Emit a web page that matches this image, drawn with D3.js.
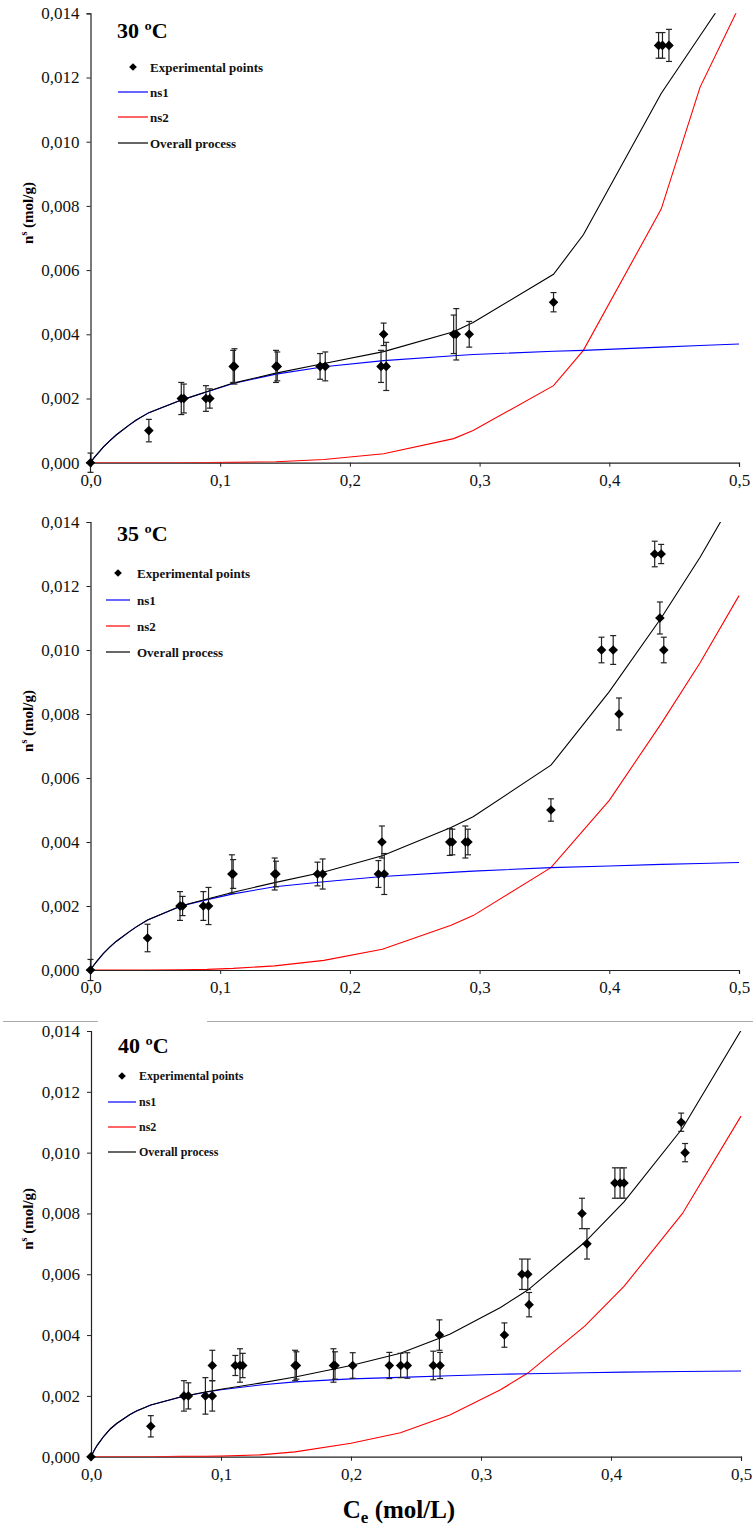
<!DOCTYPE html>
<html><head><meta charset="utf-8">
<script src="https://cdn.jsdelivr.net/npm/d3@7"></script>
<style>
html,body{margin:0;padding:0;background:#fff;}
svg{display:block;font-family:"Liberation Serif","Times New Roman",serif;}
</style></head>
<body>
<svg id="chart" width="753" height="1526"></svg>
<script>
// ---------- DATA ----------
const xTickValues = [0, 0.1, 0.2, 0.3, 0.4, 0.5];
const yTickValues = [0, 0.002, 0.004, 0.006, 0.008, 0.010, 0.012, 0.014];
const legendLabels = ["Experimental points", "ns1", "ns2", "Overall process"];
const panelTitles = ["30 ºC", "35 ºC", "40 ºC"];

// 30 ºC experimental points
const exp30X   = [0, 0.045, 0.070, 0.072, 0.089, 0.092, 0.110, 0.111, 0.143, 0.144, 0.177, 0.181, 0.224, 0.226, 0.228, 0.280, 0.282, 0.292, 0.357, 0.438, 0.441, 0.446];
const exp30Y   = [0, 0.001, 0.002, 0.002, 0.002, 0.002, 0.003, 0.003, 0.003, 0.003, 0.003, 0.003, 0.003, 0.004, 0.003, 0.004, 0.004, 0.004, 0.005, 0.013, 0.013, 0.013];
const exp30Err = [0.0003, 0.00035, 0.0005, 0.00045, 0.0004, 0.0003, 0.0005, 0.00055, 0.0005, 0.00045, 0.0004, 0.00045, 0.0005, 0.00035, 0.00075, 0.0006, 0.0008, 0.0004, 0.0003, 0.0004, 0.0004, 0.0005];
// 30 ºC model curves
const curve30X   = [0, 0.0025, 0.005, 0.01, 0.015, 0.02, 0.03, 0.035, 0.045, 0.070, 0.090, 0.110, 0.143, 0.180, 0.226, 0.280, 0.295, 0.357, 0.380, 0.440, 0.470, 0.500];
const ns1_30     = [0, 0.00014, 0.00026, 0.00049, 0.00069, 0.00087, 0.00118, 0.00132, 0.00156, 0.00195, 0.00221, 0.00247, 0.00276, 0.00299, 0.00318, 0.00333, 0.00337, 0.00347, 0.0035, 0.0036, 0.00365, 0.0037];
const ns2_30     = [0, 0, 0, 0, 0, 0, 0, 0, 0, 0, 0.000005, 0.00001, 0.00003, 0.0001, 0.00028, 0.00075, 0.001, 0.0024, 0.0035, 0.0079, 0.0117, 0.0142];
const overall30  = [0, 0.00014, 0.00026, 0.00049, 0.00069, 0.00087, 0.00118, 0.00132, 0.00156, 0.00195, 0.00222, 0.00248, 0.00279, 0.00309, 0.00346, 0.00408, 0.00437, 0.00587, 0.0071, 0.0115, 0.0133, 0.0151];

// 35 ºC experimental points
const exp35X   = [0, 0.044, 0.069, 0.071, 0.087, 0.091, 0.109, 0.110, 0.142, 0.143, 0.175, 0.179, 0.222, 0.2247, 0.2265, 0.277, 0.279, 0.289, 0.291, 0.355, 0.394, 0.403, 0.4075, 0.435, 0.440, 0.439, 0.442];
const exp35Y   = [0, 0.001, 0.002, 0.002, 0.002, 0.002, 0.003, 0.003, 0.003, 0.003, 0.003, 0.003, 0.003, 0.004, 0.003, 0.004, 0.004, 0.004, 0.004, 0.005, 0.010, 0.010, 0.008, 0.013, 0.013, 0.011, 0.010];
const exp35Err = [0.00033, 0.00043, 0.00045, 0.0003, 0.00045, 0.00058, 0.0006, 0.00045, 0.0005, 0.0004, 0.00037, 0.00047, 0.00042, 0.0005, 0.00064, 0.00042, 0.0004, 0.0005, 0.0004, 0.00035, 0.0004, 0.00045, 0.0005, 0.0004, 0.0003, 0.0005, 0.0004];
// 35 ºC model curves
const curve35X   = [0, 0.0025, 0.005, 0.01, 0.015, 0.02, 0.03, 0.035, 0.044, 0.070, 0.090, 0.110, 0.142, 0.180, 0.225, 0.278, 0.295, 0.355, 0.400, 0.440, 0.470, 0.500];
const ns1_35     = [0, 0.00015, 0.00028, 0.00052, 0.00072, 0.0009, 0.0012, 0.00134, 0.00156, 0.002, 0.0022, 0.00238, 0.0026, 0.00276, 0.00292, 0.00305, 0.00309, 0.0032, 0.00325, 0.0033, 0.00333, 0.00336];
const ns2_35     = [0, 0, 0, 0, 0, 0, 0, 0, 0, 0.00001, 0.00002, 0.00005, 0.00013, 0.0003, 0.00065, 0.0014, 0.0017, 0.0032, 0.0053, 0.0077, 0.0096, 0.0117];
const overall35  = [0, 0.00015, 0.00028, 0.00052, 0.00072, 0.0009, 0.0012, 0.00134, 0.00156, 0.00201, 0.00222, 0.00243, 0.00273, 0.00306, 0.00357, 0.00445, 0.00479, 0.0064, 0.0087, 0.011, 0.0129, 0.0150];

// 40 ºC experimental points
const exp40X   = [0, 0.046, 0.0715, 0.0749, 0.088, 0.0933, 0.0933, 0.111, 0.1146, 0.1167, 0.157, 0.158, 0.1865, 0.1877, 0.2013, 0.2295, 0.2382, 0.2433, 0.2633, 0.268, 0.2685, 0.318, 0.3315, 0.336, 0.337, 0.3777, 0.3815, 0.403, 0.407, 0.410, 0.454, 0.457];
const exp40Y   = [0, 0.001, 0.002, 0.002, 0.002, 0.002, 0.003, 0.003, 0.003, 0.003, 0.003, 0.003, 0.003, 0.003, 0.003, 0.003, 0.003, 0.003, 0.003, 0.004, 0.003, 0.004, 0.006, 0.006, 0.005, 0.008, 0.007, 0.009, 0.009, 0.009, 0.011, 0.010];
const exp40Err = [0, 0.00035, 0.0005, 0.00043, 0.0006, 0.0005, 0.0005, 0.00033, 0.00055, 0.0004, 0.0005, 0.00045, 0.00055, 0.00045, 0.00042, 0.00043, 0.0004, 0.00042, 0.00047, 0.0005, 0.00043, 0.0004, 0.0005, 0.0005, 0.0004, 0.0005, 0.0005, 0.0005, 0.0005, 0.0005, 0.0003, 0.0003];
// 40 ºC model curves
const curve40X   = [0, 0.0025, 0.005, 0.01, 0.015, 0.02, 0.03, 0.035, 0.046, 0.070, 0.088, 0.100, 0.130, 0.157, 0.200, 0.238, 0.276, 0.315, 0.336, 0.380, 0.410, 0.455, 0.500];
const ns1_40     = [0, 0.00021, 0.00039, 0.00068, 0.00092, 0.0011, 0.00139, 0.0015, 0.0017, 0.00197, 0.00212, 0.0022, 0.00236, 0.00246, 0.00256, 0.00261, 0.00266, 0.00271, 0.00273, 0.00276, 0.00278, 0.0028, 0.00282];
const ns2_40     = [0, 0, 0, 0, 0, 0, 0, 0, 0, 0.00001, 0.00001, 0.00002, 0.00006, 0.00016, 0.00044, 0.00079, 0.00137, 0.0022, 0.00275, 0.0043, 0.0056, 0.008, 0.0112];
const overall40  = [0, 0.00021, 0.00039, 0.00068, 0.00092, 0.0011, 0.00139, 0.0015, 0.0017, 0.00198, 0.00213, 0.00222, 0.00242, 0.00262, 0.003, 0.0034, 0.00403, 0.00491, 0.00548, 0.00706, 0.00838, 0.0108, 0.01402];

// ---------- LAYOUT ----------
const panels = [
  {title: panelTitles[0], ex: exp30X, ey: exp30Y, ee: exp30Err, cx: curve30X, c1: ns1_30, c2: ns2_30, c3: overall30,
   top: 13.3, bottom: 462.7, left: 90.5, right: 739,
   titleX: 117, titleY: 38, legX: 118, legY: [67, 92, 117, 143], legFont: 13, legLine: 30, legTextX: 150},
  {title: panelTitles[1], ex: exp35X, ey: exp35Y, ee: exp35Err, cx: curve35X, c1: ns1_35, c2: ns2_35, c3: overall35,
   top: 522, bottom: 970, left: 90.5, right: 739,
   titleX: 117, titleY: 541, legX: 106, legY: [573, 600, 626, 652], legFont: 13, legLine: 24, legTextX: 137},
  {title: panelTitles[2], ex: exp40X, ey: exp40Y, ee: exp40Err, cx: curve40X, c1: ns1_40, c2: ns2_40, c3: overall40,
   top: 1031, bottom: 1456.7, left: 91, right: 741,
   titleX: 118, titleY: 1053, legX: 108, legY: [1076, 1102, 1127, 1152], legFont: 12, legLine: 28, legTextX: 139}
];

const svg = d3.select("#chart");
const locale = d3.formatLocale({decimal: ",", thousands: ".", grouping: [3], currency: ["", "€"]});
const fy = locale.format(".3f"), fx = locale.format(".1f");
const axisColor = "#222";
const diamondPath = d3.symbol().type(d3.symbolSquare).size(46)();

panels.forEach((p, i) => {
  const x = d3.scaleLinear().domain([0, 0.5]).range([p.left, p.right]);
  const y = d3.scaleLinear().domain([0, 0.014]).range([p.bottom, p.top]);
  const g = svg.append("g");

  const clipId = "clip" + i;
  svg.append("clipPath").attr("id", clipId).append("rect")
    .attr("x", p.left).attr("y", p.top).attr("width", p.right - p.left + 2).attr("height", p.bottom - p.top);

  // axes
  const yAxis = d3.axisLeft(y).tickValues(yTickValues).tickFormat(fy).tickSize(4).tickPadding(7);
  const xAxis = d3.axisBottom(x).tickValues(xTickValues).tickFormat(fx).tickSize(4).tickPadding(7);
  const ya = g.append("g").attr("transform", `translate(${p.left},0)`).call(yAxis);
  const xa = g.append("g").attr("transform", `translate(0,${p.bottom})`).call(xAxis);
  [ya, xa].forEach(a => {
    a.select(".domain").attr("stroke", axisColor).attr("stroke-width", 1.2);
    a.selectAll(".tick line").attr("stroke", axisColor);
    a.selectAll(".tick text").attr("fill", "#111").style("font-size", "17px")
      .style("font-family", '"Liberation Serif","Times New Roman",serif');
  });

  // y axis title
  const yt = g.append("text")
    .attr("transform", `translate(33,${(p.top + p.bottom) / 2 - 25}) rotate(-90)`)
    .attr("text-anchor", "middle").style("font-weight", "bold").style("font-size", "15px");
  yt.append("tspan").text("n");
  yt.append("tspan").attr("dy", -6).style("font-size", "10px").text("s");
  yt.append("tspan").attr("dy", 6).text(" (mol/g)");

  // curves
  const line = d3.line().x(d => x(d[0])).y(d => y(d[1]));
  const cg = g.append("g").attr("clip-path", `url(#${clipId})`);
  const series = [
    {vals: p.c2, color: "#ff0000"},
    {vals: p.c1, color: "#0000ff"},
    {vals: p.c3, color: "#000000"}
  ];
  series.forEach(s => {
    cg.append("path").datum(p.cx.map((cx, k) => [cx, s.vals[k]]))
      .attr("d", line).attr("fill", "none").attr("stroke", s.color).attr("stroke-width", 1.1);
  });

  // error bars
  const eg = g.append("g").attr("stroke", "#222").attr("stroke-width", 1.2);
  p.ex.forEach((xv, k) => {
    const e = p.ee[k];
    if (!e) return;
    const xc = x(xv), y1 = y(p.ey[k] + e), y2 = y(p.ey[k] - e);
    eg.append("line").attr("x1", xc).attr("x2", xc).attr("y1", y1).attr("y2", y2);
    eg.append("line").attr("x1", xc - 3).attr("x2", xc + 3).attr("y1", y1).attr("y2", y1);
    eg.append("line").attr("x1", xc - 3).attr("x2", xc + 3).attr("y1", y2).attr("y2", y2);
  });

  // markers (diamonds)
  g.append("g").selectAll("path").data(p.ex.map((xv, k) => [xv, p.ey[k]])).join("path")
    .attr("d", diamondPath).attr("transform", d => `translate(${x(d[0])},${y(d[1])}) rotate(45)`).attr("fill", "#000");

  // title
  g.append("text").attr("x", p.titleX).attr("y", p.titleY).style("font-weight", "bold")
    .style("font-size", "22px").attr("fill", "#000").text(p.title);

  // legend
  const lg = g.append("g").style("font-weight", "bold").style("font-size", p.legFont + "px");
  lg.append("path").attr("d", d3.symbol().type(d3.symbolSquare).size(30)())
    .attr("transform", `translate(${p.legX + p.legLine / 2},${p.legY[0]}) rotate(45)`).attr("fill", "#000");
  ["#0000ff", "#ff0000", "#000000"].forEach((c, k) => {
    lg.append("line").attr("x1", p.legX).attr("x2", p.legX + p.legLine)
      .attr("y1", p.legY[k + 1]).attr("y2", p.legY[k + 1]).attr("stroke", c).attr("stroke-width", 1.2);
  });
  legendLabels.forEach((t, k) => {
    lg.append("text").attr("x", p.legTextX).attr("y", p.legY[k]).attr("dy", "0.35em").attr("fill", "#111").text(t);
  });
});

// divider line between panel 2 and 3
svg.append("line").attr("x1", 3).attr("x2", 98).attr("y1", 1021.5).attr("y2", 1021.5).attr("stroke", "#aaa");
svg.append("line").attr("x1", 207).attr("x2", 753).attr("y1", 1021.5).attr("y2", 1021.5).attr("stroke", "#aaa");

// x axis title (bottom)
const xt = svg.append("text").attr("x", 399).attr("y", 1518).attr("text-anchor", "middle")
  .style("font-weight", "bold").style("font-size", "25px");
xt.append("tspan").text("C");
xt.append("tspan").attr("dy", 5).style("font-size", "17px").text("e");
xt.append("tspan").attr("dy", -5).text(" (mol/L)");
</script>
</body></html>
